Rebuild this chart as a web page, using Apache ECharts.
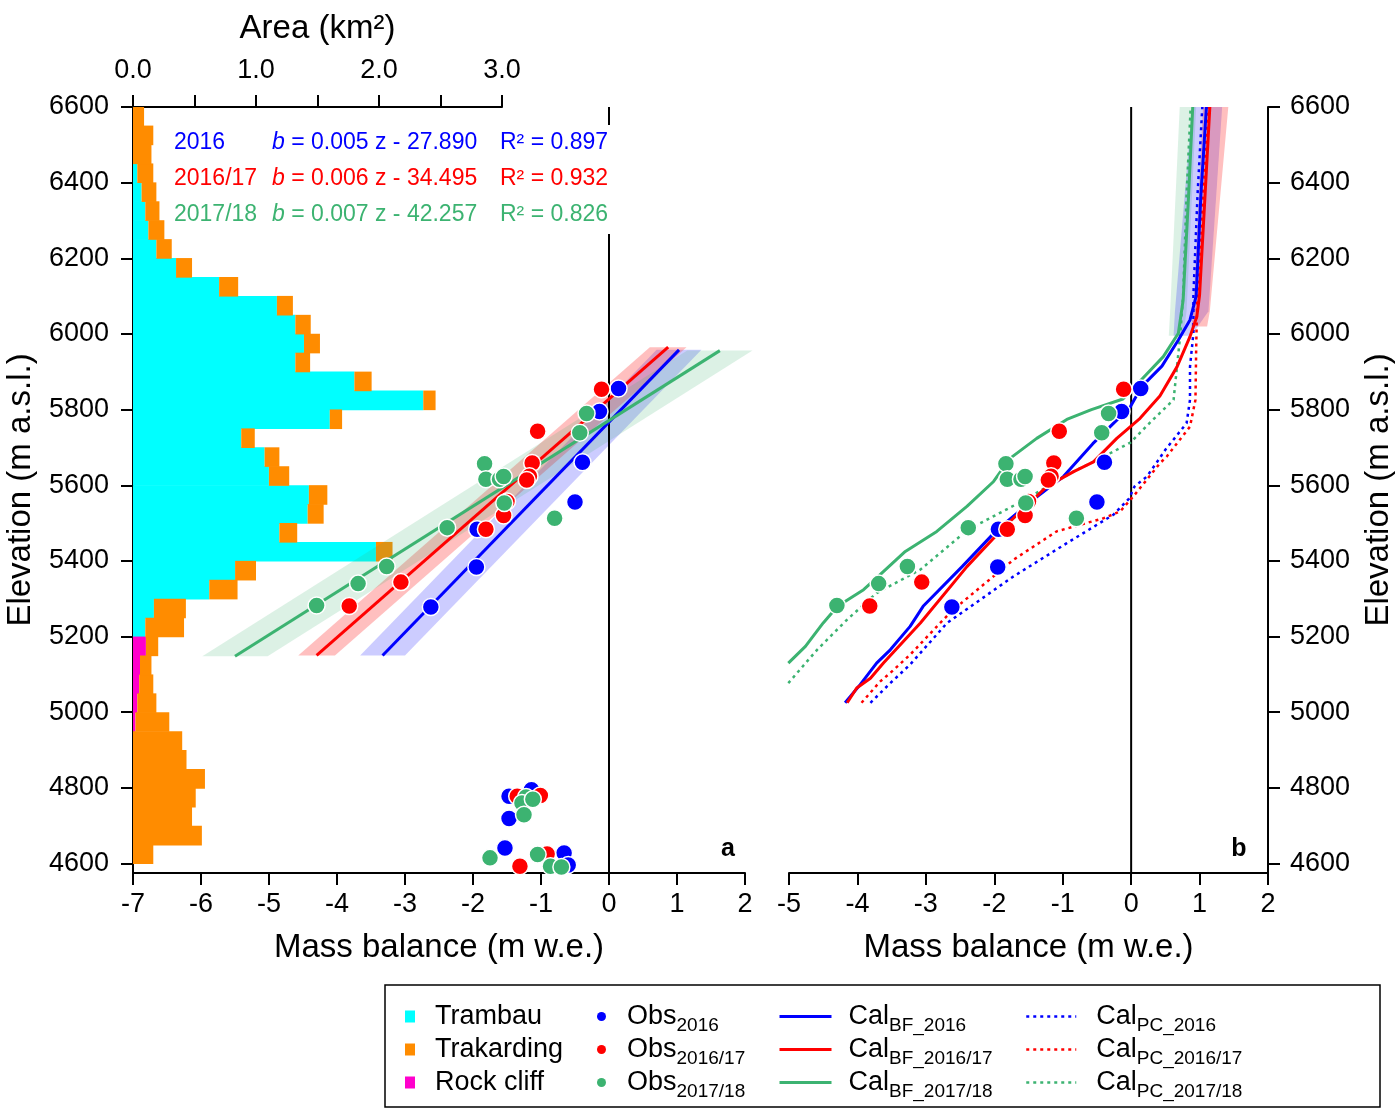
<!DOCTYPE html>
<html><head><meta charset="utf-8">
<script src="https://cdn.jsdelivr.net/npm/echarts@6/dist/echarts.min.js"></script>
<style>html,body{margin:0;padding:0;background:#fff}#c{width:1400px;height:1113px}</style>
</head><body><div id="c"></div>
<script>
const FONT = '"Liberation Sans", Arial, Helvetica, sans-serif';
const C_BLUE = '#0000ff', C_RED = '#ff0000', C_GREEN = '#3cb371';
const C_CYAN = '#00ffff', C_ORANGE = '#ff8c00', C_MAG = '#ff00cc';

// ---- Area histogram (50 m elevation bins, lower edge in m) ----
const binLower = [4600,4650,4700,4750,4800,4850,4900,4950,5000,5050,5100,5150,5200,5250,5300,5350,5400,5450,5500,5550,
                  5600,5650,5700,5750,5800,5850,5900,5950,6000,6050,6100,6150,6200,6250,6300,6350,6400,6450,6500,6550];
const areaTrambau = [0,0,0,0,0,0,0,0,0,0,0,0,0.10,0.17,0.62,0.83,1.975,1.19,1.42,1.43,
                     1.105,1.07,0.88,1.60,2.36,1.80,1.32,1.39,1.32,1.17,0.70,0.35,0.19,0.125,0.10,0.07,0.035,0,0,0];
const areaRockCliff = [0,0,0,0,0,0,0,0.02,0.035,0.05,0.057,0.105,0,0,0,0,0,0,0,0,
                       0,0,0,0,0,0,0,0,0,0,0,0,0,0,0,0,0,0,0,0];
const areaTrakarding = [0.165,0.56,0.48,0.51,0.585,0.435,0.40,0.275,0.155,0.115,0.093,0.10,0.315,0.26,0.23,0.17,0.135,0.145,0.13,0.15,
                        0.165,0.12,0.11,0.10,0.10,0.14,0.12,0.13,0.125,0.13,0.155,0.13,0.125,0.13,0.115,0.12,0.13,0.15,0.165,0.09];

// ---- Tick values ----
const elevTicks = [4600,4800,5000,5200,5400,5600,5800,6000,6200,6400,6600];
const areaTickLabels = [0,1,2,3];

// ---- Observations [mass balance, elevation] ----
const obsTrambau2016 = [[0.14,5856],[-0.14,5795],[-0.39,5661],[-0.50,5556],[-1.94,5484],[-1.95,5384],[-2.62,5278]];
const obsTrakarding2016 = [[-1.47,4778],[-1.14,4795],[-1.47,4719],[-1.53,4641],[-0.66,4628],[-0.60,4596]];
const obsTrambau201617 = [[-0.11,5854],[-1.05,5743],[-1.13,5659],[-1.17,5624],[-1.21,5614],[-1.50,5557],[-1.55,5520],[-1.81,5484],[-3.06,5344],[-3.82,5281]];
const obsTrakarding201617 = [[-1.01,4780],[-1.35,4778],[-0.91,4625],[-1.31,4593]];
const obsTrambau201718 = [[-0.33,5790],[-0.43,5739],[-1.83,5657],[-1.81,5616],[-1.61,5616],[-1.55,5623],[-1.54,5553],[-0.80,5513],[-2.38,5488],[-3.27,5385],[-3.69,5340],[-4.30,5282]];
const obsTrakarding201718 = [[-1.22,4776],[-1.28,4760],[-1.25,4729],[-1.12,4770],[-1.75,4615],[-1.05,4624],[-0.86,4593],[-0.70,4591]];

// ---- Panel a: linear fits and their uncertainty bands ----
const fit2016 = [[-3.33,5150],[1.03,5958]];
const fit201617 = [[-4.30,5150],[0.87,5965]];
const fit201718 = [[-5.50,5148],[1.63,5956]];
const bandA2016 = [[-3.66,5150],[-3.00,5150],[1.36,5958],[0.70,5958]];
const bandA201617 = [[-4.57,5150],[-4.03,5150],[1.14,5965],[0.60,5965]];
const bandA201718 = [[-5.98,5148],[-5.02,5148],[2.11,5956],[1.15,5956]];

// ---- Panel b: calibrated profiles ----
const calBF2016 = [[-4.18,5025],[-3.96,5073],[-3.72,5130],[-3.52,5165],[-3.23,5227],[-3.04,5280],[-2.47,5385],[-1.96,5482],[-1.43,5562],[-0.99,5623],[-0.56,5710],[-0.01,5808],[0.15,5860],[0.45,5915],[0.69,5984],[0.86,6037],[0.95,6100],[1.02,6370],[1.10,6600]];
const calBF201617 = [[-4.15,5025],[-4.01,5064],[-3.81,5090],[-3.62,5130],[-3.08,5236],[-2.40,5385],[-1.87,5487],[-1.23,5597],[-0.84,5636],[-0.55,5662],[-0.21,5724],[0.13,5777],[0.42,5836],[0.67,5913],[0.86,5993],[0.96,6046],[1.00,6103],[1.08,6367],[1.15,6600]];
const calBF201718 = [[-5.01,5130],[-4.76,5174],[-4.50,5236],[-4.29,5280],[-3.91,5324],[-3.72,5355],[-3.30,5425],[-2.84,5478],[-2.40,5544],[-2.01,5610],[-1.77,5671],[-1.38,5724],[-0.94,5774],[-0.58,5800],[-0.12,5828],[0.17,5883],[0.47,5940],[0.69,6002],[0.76,6090],[0.84,6367],[0.90,6600]];
const calPC2016 = [[-3.81,5025],[-3.52,5077],[-3.23,5126],[-2.69,5236],[-1.72,5359],[-0.94,5447],[-0.26,5522],[-0.03,5565],[0.05,5597],[0.23,5623],[0.40,5667],[0.50,5694],[0.81,5764],[0.86,5826],[0.86,5913],[0.91,6002],[0.91,6103],[0.97,6367],[1.04,6600]];
const calPC201617 = [[-3.94,5025],[-3.67,5081],[-3.52,5104],[-3.23,5152],[-2.79,5236],[-2.60,5271],[-1.72,5403],[-1.09,5478],[-0.40,5513],[-0.16,5531],[0.03,5570],[0.23,5615],[0.42,5658],[0.52,5676],[0.86,5755],[0.94,5826],[0.95,5958],[0.96,6046],[0.97,6103],[1.05,6367],[1.12,6600]];
const calPC201718 = [[-5.01,5077],[-4.59,5165],[-4.15,5245],[-3.72,5315],[-3.08,5377],[-2.39,5482],[-1.55,5562],[-0.89,5632],[-0.45,5671],[-0.01,5713],[0.30,5770],[0.62,5826],[0.67,5913],[0.72,6002],[0.76,6103],[0.81,6367],[0.87,6600]];
const bandB2016 = [[0.62,5995],[0.88,5995],[1.13,6060],[1.33,6600],[0.89,6600],[0.64,6060]];
const bandB201617 = [[0.88,6020],[1.11,6020],[1.15,6060],[1.42,6600],[1.05,6600],[0.91,6060]];
const bandB201718 = [[0.55,5995],[0.76,5995],[0.81,6060],[0.95,6600],[0.71,6600],[0.57,6060]];

const zeroLine = [[0,4575],[0,6600]];
const elevRange = [4575, 6600];

// ---- Annotation text ----
const fitYears = ['2016','2016/17','2017/18'];
const fitEquations = [' = 0.005 z - 27.890',' = 0.006 z - 34.495',' = 0.007 z - 42.257'];
const fitR2 = ['0.897','0.932','0.826'];
const fitColors = [C_BLUE, C_RED, C_GREEN];

function polygonRender(color) {
  return function (params, api) {
    if (params.dataIndexInside !== 0) return null;
    const pts = [];
    for (let i = 0; i < params.dataInsideLength; i++) {
      pts.push(api.coord([api.value(0, i), api.value(1, i)]));
    }
    return { type: 'polygon', shape: { points: pts }, style: { fill: color } };
  };
}

const axisLineStyle = { color: '#000', width: 2 };
const tickLabel = { fontSize: 27, color: '#000', fontFamily: FONT };
const titleStyle = { fontSize: 33, color: '#000', fontFamily: FONT };
const plain = function (v) { return String(v); };

function legendFormatter(name) {
  const p = name.split('|');
  return p.length > 1 ? '{m|' + p[0] + '}{s|' + p[1] + '}' : '{m|' + name + '}';
}
function legendText(padLeft) {
  return {
    fontSize: 27, fontFamily: FONT, color: '#000', padding: [0, 0, 0, padLeft],
    rich: {
      m: { fontSize: 27, fontFamily: FONT, color: '#000', lineHeight: 30 },
      s: { fontSize: 19, fontFamily: FONT, color: '#000', lineHeight: 19, padding: [9, 0, -9, 0] }
    }
  };
}

function scatter(name, data, color, xi, yi) {
  return { type: 'scatter', name: name, xAxisIndex: xi, yAxisIndex: yi, data: data, symbol: 'circle', symbolSize: 17,
    itemStyle: { color: color, borderColor: '#fff', borderWidth: 1.5, opacity: 1 }, z: 6, silent: true };
}
function line(name, data, color, width, type, xi, yi, z) {
  return { type: 'line', name: name, xAxisIndex: xi, yAxisIndex: yi, data: data, symbol: 'none', showSymbol: false,
    lineStyle: { color: color, width: width, type: type }, itemStyle: { color: color }, z: z || 4, silent: true };
}
function band(name, data, color, xi, yi) {
  return { type: 'custom', name: name, xAxisIndex: xi, yAxisIndex: yi, data: data, renderItem: polygonRender(color), z: 2, silent: true, itemStyle: { color: color } };
}

const graphics = [
  { type: 'rect', shape: { x: 166, y: 125, width: 449, height: 109 }, style: { fill: '#fff' }, z: 50 },
  { type: 'rect', shape: { x: 385, y: 985, width: 995, height: 122 }, style: { fill: 'none', stroke: '#000', lineWidth: 1.5 }, z: 0 },
  { type: 'text', x: 728, y: 849, style: { text: 'a', fontSize: 25, fontWeight: 'bold', fontFamily: FONT, fill: '#000', align: 'center', verticalAlign: 'middle', textAlign: 'center', textVerticalAlign: 'middle' }, z: 60 },
  { type: 'text', x: 1239, y: 849, style: { text: 'b', fontSize: 25, fontWeight: 'bold', fontFamily: FONT, fill: '#000', align: 'center', verticalAlign: 'middle', textAlign: 'center', textVerticalAlign: 'middle' }, z: 60 }
];
const rowY = [143, 179, 215];
for (let i = 0; i < 3; i++) {
  const col = fitColors[i];
  const base = { fontSize: 23, fontFamily: FONT, fill: col, verticalAlign: 'middle', textVerticalAlign: 'middle', align: 'left', textAlign: 'left' };
  graphics.push({ type: 'text', x: 174, y: rowY[i], style: Object.assign({ text: fitYears[i] }, base), z: 60 });
  graphics.push({ type: 'text', x: 272, y: rowY[i], style: Object.assign({
    text: '{i|b}{n|' + fitEquations[i] + '}',
    rich: { i: { fontSize: 23, fontFamily: FONT, fontStyle: 'italic', fill: col }, n: { fontSize: 23, fontFamily: FONT, fill: col } }
  }, base), z: 60 });
  graphics.push({ type: 'text', x: 500, y: rowY[i], style: Object.assign({ text: 'R\u00B2 = ' + fitR2[i] }, base), z: 60 });
}

const option = {
  animation: false,
  backgroundColor: '#fff',
  grid: [
    { left: 133, top: 107, width: 612, height: 766 },
    { left: 133, top: 107, width: 369, height: 757 },
    { left: 789, top: 107, width: 479, height: 766 }
  ],
  xAxis: [
    { gridIndex: 0, type: 'value', position: 'bottom', min: -7, max: 2, interval: 1,
      axisLine: { show: true, onZero: false, lineStyle: axisLineStyle }, axisTick: { show: true, length: 12, lineStyle: axisLineStyle },
      axisLabel: Object.assign({ margin: 18 }, tickLabel), splitLine: { show: false },
      name: 'Mass balance (m w.e.)', nameLocation: 'middle', nameGap: 58, nameTextStyle: titleStyle },
    { gridIndex: 1, type: 'value', position: 'top', min: 0, max: 3, interval: 0.5,
      axisLine: { show: true, onZero: false, lineStyle: axisLineStyle }, axisTick: { show: true, length: 12, lineStyle: axisLineStyle },
      axisLabel: Object.assign({ margin: 23, customValues: areaTickLabels, formatter: function (v) { return v.toFixed(1); } }, tickLabel),
      splitLine: { show: false },
      name: 'Area (km\u00B2)', nameLocation: 'middle', nameGap: 62, nameTextStyle: titleStyle },
    { gridIndex: 2, type: 'value', position: 'bottom', min: -5, max: 2, interval: 1,
      axisLine: { show: true, onZero: false, lineStyle: axisLineStyle }, axisTick: { show: true, length: 12, lineStyle: axisLineStyle },
      axisLabel: Object.assign({ margin: 18 }, tickLabel), splitLine: { show: false },
      name: 'Mass balance (m w.e.)', nameLocation: 'middle', nameGap: 58, nameTextStyle: titleStyle }
  ],
  yAxis: [
    { gridIndex: 0, type: 'value', position: 'left', min: elevRange[0], max: elevRange[1],
      axisLine: { show: true, onZero: false, lineStyle: axisLineStyle },
      axisTick: { show: true, length: 12, lineStyle: axisLineStyle, customValues: elevTicks },
      axisLabel: Object.assign({ margin: 24, customValues: elevTicks, formatter: plain }, tickLabel), splitLine: { show: false },
      name: 'Elevation (m a.s.l.)', nameLocation: 'middle', nameGap: 96, nameRotate: 90, nameTextStyle: titleStyle },
    { gridIndex: 1, type: 'category', data: binLower, show: false },
    { gridIndex: 2, type: 'value', position: 'right', min: elevRange[0], max: elevRange[1],
      axisLine: { show: true, onZero: false, lineStyle: axisLineStyle },
      axisTick: { show: true, length: 12, lineStyle: axisLineStyle, customValues: elevTicks },
      axisLabel: Object.assign({ margin: 22, customValues: elevTicks, formatter: plain }, tickLabel), splitLine: { show: false },
      name: 'Elevation (m a.s.l.)', nameLocation: 'middle', nameGap: 94, nameRotate: 90, nameTextStyle: titleStyle }
  ],
  legend: [
    { orient: 'vertical', left: 405, top: 1003, padding: 0, itemGap: 6, itemWidth: 10, itemHeight: 12, selectedMode: false,
      data: [{ name: 'Trambau', icon: 'rect' }, { name: 'Trakarding', icon: 'rect' }, { name: 'Rock cliff', icon: 'rect' }],
      formatter: legendFormatter, textStyle: legendText(15) },
    { orient: 'vertical', left: 597, top: 1003, padding: 0, itemGap: 1, itemWidth: 9, itemHeight: 9, selectedMode: false,
      itemStyle: { borderWidth: 0 },
      data: [{ name: 'Obs|2016', icon: 'circle' }, { name: 'Obs|2016/17', icon: 'circle' }, { name: 'Obs|2017/18', icon: 'circle' }],
      formatter: legendFormatter, textStyle: legendText(16) },
    { orient: 'vertical', left: 778, top: 1003, padding: 0, itemGap: 1, itemWidth: 52, itemHeight: 12, selectedMode: false,
      itemStyle: { opacity: 0 }, lineStyle: { width: 3 },
      data: ['Cal|BF_2016', 'Cal|BF_2016/17', 'Cal|BF_2017/18'],
      formatter: legendFormatter, textStyle: legendText(12) },
    { orient: 'vertical', left: 1025, top: 1003, padding: 0, itemGap: 1, itemWidth: 50, itemHeight: 12, selectedMode: false,
      itemStyle: { opacity: 0 }, lineStyle: { width: 2.5 },
      data: ['Cal|PC_2016', 'Cal|PC_2016/17', 'Cal|PC_2017/18'],
      formatter: legendFormatter, textStyle: legendText(15) }
  ],
  graphic: graphics,
  series: [
    // histogram
    { type: 'bar', name: 'Trambau', xAxisIndex: 1, yAxisIndex: 1, stack: 'area', barWidth: 19.6, data: areaTrambau, itemStyle: { color: C_CYAN }, z: 1, silent: true },
    { type: 'bar', name: 'Rock cliff', xAxisIndex: 1, yAxisIndex: 1, stack: 'area', barWidth: 19.6, data: areaRockCliff, itemStyle: { color: C_MAG }, z: 1, silent: true },
    { type: 'bar', name: 'Trakarding', xAxisIndex: 1, yAxisIndex: 1, stack: 'area', barWidth: 19.6, data: areaTrakarding, itemStyle: { color: C_ORANGE }, z: 1, silent: true },
    // panel a
    band('bandA2016', bandA2016, 'rgba(0,0,255,0.2)', 0, 0),
    band('bandA201617', bandA201617, 'rgba(255,0,0,0.25)', 0, 0),
    band('bandA201718', bandA201718, 'rgba(60,179,113,0.18)', 0, 0),
    line('zeroA', zeroLine, '#000', 2, 'solid', 0, 0, 3),
    line('fit2016', fit2016, C_BLUE, 3, 'solid', 0, 0),
    line('fit201617', fit201617, C_RED, 3, 'solid', 0, 0),
    line('fit201718', fit201718, C_GREEN, 3, 'solid', 0, 0),
    scatter('Obs|2016', obsTrambau2016.concat(obsTrakarding2016), C_BLUE, 0, 0),
    scatter('Obs|2016/17', obsTrambau201617.concat(obsTrakarding201617), C_RED, 0, 0),
    scatter('Obs|2017/18', obsTrambau201718.concat(obsTrakarding201718), C_GREEN, 0, 0),
    // panel b
    band('bandB201718', bandB201718, 'rgba(60,179,113,0.18)', 2, 2),
    band('bandB2016', bandB2016, 'rgba(0,0,255,0.2)', 2, 2),
    band('bandB201617', bandB201617, 'rgba(255,0,0,0.25)', 2, 2),
    line('zeroB', zeroLine, '#000', 2, 'solid', 2, 2, 3),
    line('Cal|PC_2017/18', calPC201718, C_GREEN, 2.5, [3, 4], 2, 2),
    line('Cal|PC_2016', calPC2016, C_BLUE, 2.5, [3, 4], 2, 2),
    line('Cal|PC_2016/17', calPC201617, C_RED, 2.5, [3, 4], 2, 2),
    line('Cal|BF_2017/18', calBF201718, C_GREEN, 3, 'solid', 2, 2),
    line('Cal|BF_2016', calBF2016, C_BLUE, 3, 'solid', 2, 2),
    line('Cal|BF_2016/17', calBF201617, C_RED, 3, 'solid', 2, 2),
    scatter('Obs|2016', obsTrambau2016, C_BLUE, 2, 2),
    scatter('Obs|2016/17', obsTrambau201617, C_RED, 2, 2),
    scatter('Obs|2017/18', obsTrambau201718, C_GREEN, 2, 2)
  ]
};

const chart = echarts.init(document.getElementById('c'), null, { renderer: 'canvas' });
chart.setOption(option);
</script>
</body></html>
